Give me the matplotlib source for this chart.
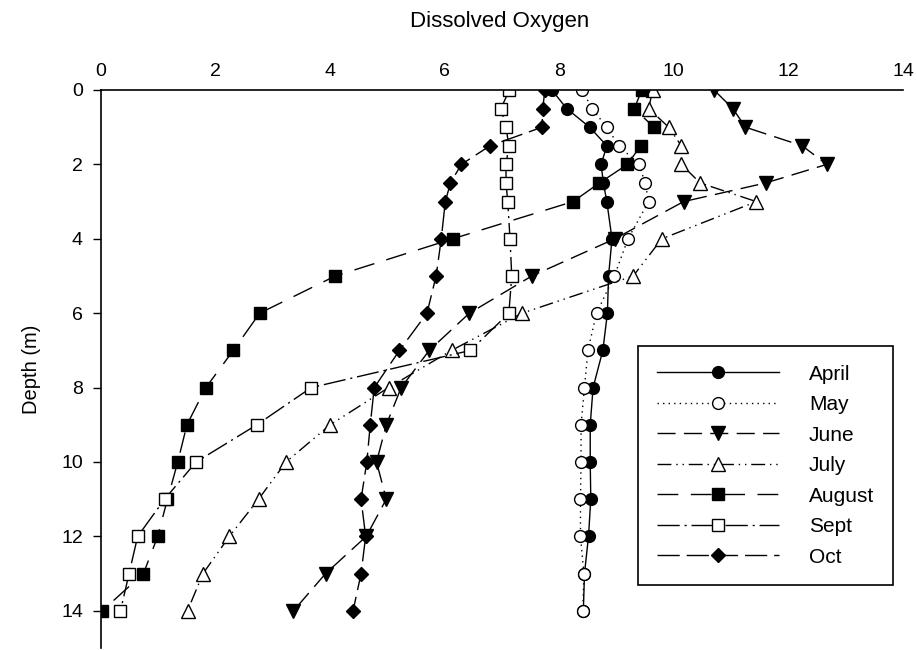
import numpy as np
import matplotlib
matplotlib.use("Agg")
import matplotlib.pyplot as plt

plt.rcParams['font.family'] = ['Liberation Sans', 'DejaVu Sans']

# depth (m) of each sample
depth = [0, 0.5, 1, 1.5, 2, 2.5, 3, 4, 5, 6, 7, 8, 9, 10, 11, 12, 13, 14]

# dissolved oxygen readings per month
april = [7.87, 8.13, 8.53, 8.83, 8.73, 8.77, 8.83, 8.92, 8.86, 8.84, 8.76, 8.59,
         8.54, 8.54, 8.55, 8.51, 8.44, 8.42]
may = [8.40, 8.57, 8.83, 9.04, 9.39, 9.50, 9.56, 9.20, 8.96, 8.65, 8.50, 8.44,
       8.38, 8.38, 8.37, 8.37, 8.43, 8.41]
june = [10.70, 11.03, 11.25, 12.24, 12.67, 11.60, 10.17, 8.97, 7.52, 6.43, 5.73, 5.24,
        4.98, 4.81, 4.98, 4.63, 3.92, 3.36]
july = [9.63, 9.56, 9.91, 10.13, 10.13, 10.46, 11.44, 9.79, 9.29, 7.35, 6.12, 5.02,
        4.00, 3.23, 2.75, 2.24, 1.78, 1.51]
august = [9.44, 9.31, 9.65, 9.42, 9.19, 8.70, 8.24, 6.14, 4.09, 2.77, 2.31, 1.83,
          1.50, 1.34, 1.16, 0.99, 0.74, 0.02]
sept = [7.13, 6.98, 7.07, 7.12, 7.07, 7.07, 7.10, 7.14, 7.17, 7.12, 6.45, 3.67,
        2.72, 1.66, 1.11, 0.64, 0.49, 0.34]
october = [7.75, 7.71, 7.70, 6.79, 6.29, 6.10, 6.01, 5.94, 5.85, 5.69, 5.21, 4.77,
           4.70, 4.64, 4.54, 4.62, 4.54, 4.40]

months = ['April', 'May', 'June', 'July', 'August', 'Sept', 'Oct']
values = [april, may, june, july, august, sept, october]

# (marker, face colour, marker size, dash pattern)
styles = [
    ('o', 'black', 8.5, '-'),
    ('o', 'white', 8.5, (0, (1, 3))),
    ('v', 'black', 9.5, (0, (13, 6))),
    ('^', 'white', 9.5, (0, (10, 3.5, 1, 3.5, 1, 3.5))),
    ('s', 'black', 8, (0, (15, 9))),
    ('s', 'white', 8, (0, (16, 3.5, 1.5, 3.5))),
    ('D', 'black', 7.5, (0, (16, 5))),
]

fig = plt.figure(figsize=(9.17, 6.5), dpi=100)
ax = fig.add_axes([101 / 917, 2 / 650, 802 / 917, 558 / 650])

for name, vals, (mk, fc, ms, ls) in zip(months, values, styles):
    ax.plot(vals, depth, color='black', lw=1.0, linestyle=ls, marker=mk,
            markerfacecolor=fc, markeredgecolor='black', markeredgewidth=1.0,
            markersize=ms, label=name)

ax.set_xlim(0, 14)
ax.set_ylim(15, 0)
ax.set_xticks(np.arange(0, 15, 2))
ax.set_yticks(np.arange(0, 15, 2))

ax.xaxis.tick_top()
ax.tick_params(axis='x', length=0, pad=7, labelsize=14)
ax.tick_params(axis='y', direction='out', length=6, width=1, pad=7, labelsize=14)
ax.spines['right'].set_visible(False)
ax.spines['bottom'].set_visible(False)
ax.spines['top'].set_linewidth(1.2)
ax.spines['left'].set_linewidth(1.2)

ax.set_ylabel('Depth (m)', fontsize=14.5)
ax.yaxis.set_label_coords(-0.075, 0.5)

fig.text(0.545, 1 - 22 / 650, 'Dissolved Oxygen', ha='center', va='center', fontsize=16)

leg = ax.legend(loc='upper left', bbox_to_anchor=(0.6696, 0.5412), fontsize=15,
                numpoints=1, handlelength=5.85, handletextpad=1.45, labelspacing=0.55,
                borderpad=0.9, borderaxespad=0, fancybox=False, framealpha=1)
leg.get_frame().set_edgecolor('black')
leg.get_frame().set_linewidth(1.2)

fig.savefig('out.png', dpi=100)
